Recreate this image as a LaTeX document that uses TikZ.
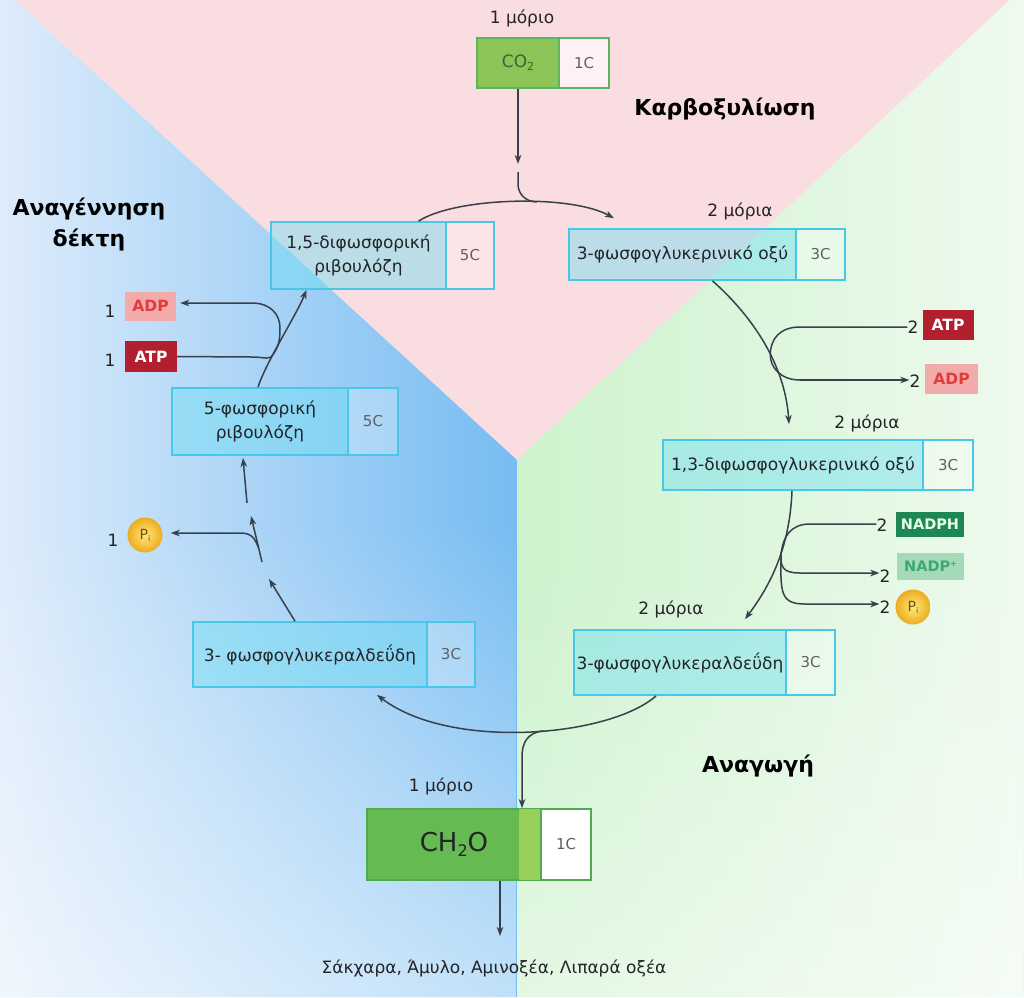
\documentclass[tikz,border=0pt]{standalone}
\usepackage{fontspec}
\setmainfont{DejaVu Sans}
\usetikzlibrary{arrows.meta,fadings}
\definecolor{pinkC}{RGB}{250,221,225}
\definecolor{blueC}{RGB}{118,188,242}
\definecolor{blueM}{RGB}{172,213,248}
\definecolor{blueL}{RGB}{222,236,251}
\definecolor{greenC}{RGB}{205,242,205}
\definecolor{greenL}{RGB}{238,250,238}
\definecolor{cyanB}{RGB}{70,200,232}
\definecolor{cyanF}{RGB}{110,222,242}
\definecolor{txtC}{RGB}{35,35,40}
\definecolor{numC}{RGB}{95,95,100}
\definecolor{arrC}{RGB}{55,65,75}
\definecolor{atpC}{RGB}{178,32,48}
\definecolor{adpC}{RGB}{242,170,170}
\definecolor{adpT}{RGB}{225,60,60}
\definecolor{nadphC}{RGB}{30,135,85}
\definecolor{nadpC}{RGB}{165,218,185}
\definecolor{nadpT}{RGB}{60,170,110}
\definecolor{piI}{RGB}{255,232,120}
\definecolor{piO}{RGB}{236,172,32}
\definecolor{piT}{RGB}{110,75,20}
\definecolor{coG}{RGB}{140,196,88}
\definecolor{coB}{RGB}{95,180,95}
\definecolor{coT}{RGB}{60,100,50}
\definecolor{chG}{RGB}{102,186,82}
\definecolor{chS}{RGB}{150,208,88}
\definecolor{chB}{RGB}{80,170,80}
\tikzfading[name=fadebot, top color=transparent!100, bottom color=transparent!0]
\begin{document}
\begin{tikzpicture}[x=1pt,y=-1pt,
  flow/.style={draw=arrC, line width=1.5pt, -{Stealth[length=9pt,width=6.5pt,inset=2.5pt]}},
  plain/.style={draw=arrC, line width=1.5pt},
  cell/.style={draw=cyanB, line width=1.7pt, fill=cyanF, fill opacity=0.45, text opacity=1, text=txtC, inner sep=0pt, align=center, font=\fontsize{17}{24}\selectfont},
  ncell/.style={draw=cyanB, line width=1.7pt, fill=white, fill opacity=0.25, text opacity=1, text=numC, inner sep=0pt, font=\fontsize{15}{18}\selectfont},
  lbl/.style={inner sep=0pt, text=txtC, font=\fontsize{17}{20}\selectfont},
  ttl/.style={inner sep=0pt, text=black, align=center, font=\bfseries\fontsize{22}{31}\selectfont},
  mol/.style={inner sep=0pt, font=\bfseries\fontsize{15.5}{17}\selectfont},
  pball/.style={circle, minimum size=35pt, inner sep=0pt, shade, inner color=piI, outer color=piO, text=piT, font=\fontsize{14}{15}\selectfont}
]
\useasboundingbox (0,0) rectangle (1024,997);
% backgrounds
\fill[white] (0,0) rectangle (1024,997);
\fill[pinkC] (15,0) -- (1010,0) -- (517,460) -- cycle;
\begin{scope}
  \clip (0,0) -- (15,0) -- (517,460) -- (517,997) -- (0,997) -- cycle;
  \shade[left color=blueL, middle color=blueM, right color=blueC] (0,0) rectangle (517,997);
  \fill[white, fill opacity=0.55, path fading=fadebot] (0,520) rectangle (517,997);
\end{scope}
\begin{scope}
  \clip (1010,0) -- (1024,0) -- (1024,997) -- (517,997) -- (517,460) -- cycle;
  \shade[left color=greenC, right color=greenL] (517,0) rectangle (1024,997);
  \fill[white, fill opacity=0.45, path fading=fadebot] (517,560) rectangle (1024,997);
\end{scope}

% titles
\node[ttl] (t1) at (725,109) {Καρβοξυλίωση};
\node[ttl] (t2) at (89,224) {Αναγέννηση\\δέκτη};
\node[ttl] (t3) at (758,766) {Αναγωγή};

% CO2
\node[lbl] (m1) at (522,18) {1 μόριο};
\node[draw=coB, line width=1.7pt, fill=coG, minimum width=82pt, minimum height=50pt, inner sep=0pt, text=coT, font=\fontsize{17}{19}\selectfont] (co2) at (518,63) {CO\raisebox{-3pt}{\fontsize{11}{11}\selectfont 2}};
\node[draw=coB, line width=1.7pt, fill=white, fill opacity=0.6, text opacity=1, minimum width=50pt, minimum height=50pt, inner sep=0pt, text=numC, font=\fontsize{15}{18}\selectfont] (co2n) at (584,63) {1C};

% cycle boxes
\node[cell, minimum width=175pt, minimum height=67pt] (rubp) at (358.5,255.5) {1,5-διφωσφορική\\ριβουλόζη};
\node[ncell, minimum width=48pt, minimum height=67pt] (rubpn) at (470,255.5) {5C};

\node[lbl] (m2) at (740,211) {2 μόρια};
\node[cell, minimum width=227pt, minimum height=51pt] (pga) at (682.5,254.5) {3-φωσφογλυκερινικό οξύ};
\node[ncell, minimum width=49pt, minimum height=51pt] (pgan) at (820.5,254.5) {3C};

\node[lbl] (m3) at (867,423) {2 μόρια};
\node[cell, minimum width=260pt, minimum height=50pt] (bpga) at (793,465) {1,3-διφωσφογλυκερινικό οξύ};
\node[ncell, minimum width=50pt, minimum height=50pt] (bpgan) at (948,465) {3C};

\node[lbl] (m4) at (671,609) {2 μόρια};
\node[cell, minimum width=212pt, minimum height=65pt] (g3pR) at (680,662.5) {3-φωσφογλυκεραλδεΰδη};
\node[ncell, minimum width=49pt, minimum height=65pt] (g3pRn) at (810.5,662.5) {3C};

\node[cell, minimum width=234pt, minimum height=65pt] (g3pL) at (310,654.5) {3- φωσφογλυκεραλδεΰδη};
\node[ncell, minimum width=48pt, minimum height=65pt] (g3pLn) at (451,654.5) {3C};

\node[cell, minimum width=176pt, minimum height=67pt] (ru5p) at (260,421.5) {5-φωσφορική\\ριβουλόζη};
\node[ncell, minimum width=50pt, minimum height=67pt] (ru5pn) at (373,421.5) {5C};

% CH2O
\node[lbl] (m5) at (441,786) {1 μόριο};
\node[draw=chB, line width=1.7pt, fill=chG, minimum width=174pt, minimum height=71pt, inner sep=0pt, text=txtC, font=\fontsize{26}{30}\selectfont] (ch2o) at (454,844.5) {CH\raisebox{-5pt}{\fontsize{16}{16}\selectfont 2}O};
\fill[chS] ([xshift=-23pt,yshift=-0.85pt]ch2o.north east) rectangle ([xshift=-0.85pt,yshift=0.85pt]ch2o.south east);
\node[draw=chB, line width=1.7pt, fill=white, minimum width=50pt, minimum height=71pt, inner sep=0pt, text=numC, font=\fontsize{15}{18}\selectfont] (ch2on) at (566,844.5) {1C};
\node[lbl] (prod) at (494,968) {Σάκχαρα, Άμυλο, Αμινοξέα, Λιπαρά οξέα};

% small molecules left
\node[mol, fill=adpC, text=adpT, minimum width=51pt, minimum height=29pt] (ADPl) at (150.5,306) {ADP};
\node[mol, fill=atpC, text=white, minimum width=52pt, minimum height=31pt] (ATPl) at (151,356.5) {ATP};
\node[lbl] (l1a) at (110,311) {1};
\node[lbl] (l1b) at (110,360) {1};
\node[pball] (PiL) at (145,535) {P\raisebox{-2pt}{\fontsize{8}{8}\selectfont i}};
\node[lbl] (l1c) at (113,540) {1};

% small molecules right
\node[mol, fill=atpC, text=white, minimum width=51pt, minimum height=30pt] (ATPr) at (948,325) {ATP};
\node[mol, fill=adpC, text=adpT, minimum width=53pt, minimum height=30pt] (ADPr) at (951.5,379) {ADP};
\node[lbl] (l2a) at (913,327) {2};
\node[lbl] (l2b) at (915,381) {2};
\node[mol, fill=nadphC, text=white!90!green, minimum width=68pt, minimum height=25pt, font=\bfseries\fontsize{14.5}{16}\selectfont] (NADPH) at (930,524.5) {NADPH};
\node[mol, fill=nadpC, text=nadpT, minimum width=67pt, minimum height=27pt, font=\bfseries\fontsize{14.5}{16}\selectfont] (NADP) at (930.5,566.5) {NADP\raisebox{5pt}{\fontsize{8}{8}\selectfont +}};
\node[pball] (PiR) at (913,607) {P\raisebox{-2pt}{\fontsize{8}{8}\selectfont i}};
\node[lbl] (l2n) at (882,525) {2};
\node[lbl] (l2np) at (885,576) {2};
\node[lbl] (l2p) at (885,607) {2};

% coordinates
\coordinate (cg1) at (518,164);
\coordinate (cg2) at (518,172);
\coordinate (cg3) at (518,184);
\coordinate (bL1) at (252,357);
\coordinate (bL2) at (280,328);
\coordinate (bL3) at (252,303);
\coordinate (bR1) at (800,327);
\coordinate (bR3) at (800,380);
\coordinate (nR1) at (810,524);
\coordinate (nR4) at (800,573);
\coordinate (nR5) at (805,604);
\coordinate (dB2) at (522,757);
\coordinate (sA) at (269,579);
\coordinate (sB) at (262,562);
\coordinate (sC) at (251,516);
\coordinate (sD) at (247,503);
\coordinate (pL2) at (240,533);
\coordinate (prd) at (500,936);

% main cycle
\draw[flow] (co2.south) -- (cg1);
\draw[flow] ([xshift=60pt]rubp.north) .. controls +(37,-24) and +(-44,-24) .. coordinate[pos=0.6] (aJ) ([xshift=-68.5pt,yshift=10pt]pga.north);
\draw[plain] (cg2) -- (cg3) .. controls +(0,11) and +(-10,0) .. (aJ);
\draw[flow] ([xshift=30pt]pga.south) .. controls +(39.5,35) and +(-4,-60) .. coordinate[pos=0.58] (bRJ) ([xshift=-4pt,yshift=15pt]bpga.north);
\draw[flow] ([xshift=-1pt]bpga.south) .. controls +(-2,50) and +(30,-40) .. coordinate[pos=0.45] (nJ) ([xshift=65pt,yshift=10pt]g3pR.north);
\draw[flow] ([xshift=-24pt]g3pR.south) .. controls +(-46,41) and +(73,56) .. coordinate[pos=0.45] (dB1) ([xshift=67pt,yshift=-7pt]g3pL.south);
\draw[flow] ([xshift=-15pt]g3pL.north) -- (sA);
\draw[flow] (sB) -- coordinate[pos=0.3] (pJ) (sC);
\draw[flow] (sD) -- ([xshift=-17pt,yshift=-2pt]ru5p.south);
\draw[flow] ([xshift=-2pt]ru5p.north) .. controls +(8,-25) and +(-10,25) .. coordinate[pos=0.35] (bLJ) ([xshift=-52pt]rubp.south);

% side branches
\draw[plain] (l2a.west) -- (bR1) .. controls +(-20,0) and +(0,-16) .. (bRJ) .. controls +(0,12) and +(-20,0) .. (bR3);
\draw[flow] (bR3) -- (bR3 -| l2b.west);
\draw[plain] (nR1 -| l2n.west) -- (nR1) .. controls +(-20,0) and +(2,-15) .. (nJ);
\draw[flow] (nJ) .. controls +(-1,14) and +(-18,0) .. (nR4) -- (nR4 -| l2np.west);
\draw[flow] (nJ) .. controls +(-1,40) and +(-25,0) .. (nR5) -- (nR5 -| l2p.west);
\draw[flow] (dB1) .. controls +(-16,2) and +(0,-14) .. (dB2) -- (dB2 |- ch2o.north);
\draw[flow] (prd |- ch2o.south) -- (prd);
\draw[flow] (pJ) .. controls +(-4,-10) and +(12,0) .. (pL2) -- ([xshift=8pt]pL2 -| PiL.east);
\draw[plain] (ATPl.east) -- (bL1) .. controls +(14,0) and +(-4,6) .. (bLJ);
\draw[flow] (bLJ) .. controls +(6,-8) and +(0,12) .. (bL2) .. controls +(0,-14) and +(18,0) .. (bL3) -- ([xshift=4pt]bL3 -| ADPl.east);
\end{tikzpicture}
\end{document}
